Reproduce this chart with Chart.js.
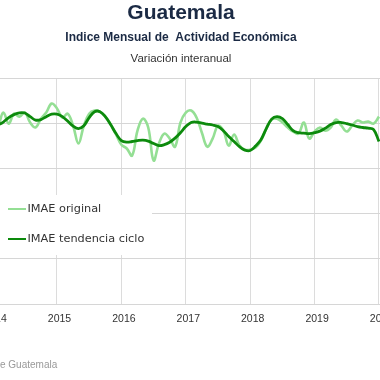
<!DOCTYPE html>
<html><head><meta charset="utf-8">
<script src="https://cdn.jsdelivr.net/npm/chart.js@4.4.1/dist/chart.umd.min.js"></script>
<style>
html,body{margin:0;padding:0;background:#fff;overflow:hidden;width:380px;height:380px;}
#wrap{position:absolute;left:-100px;top:0;width:562px;height:380px;}
</style></head><body>
<div id="wrap"><canvas id="c"></canvas></div>
<script>
const chartTitle = 'Guatemala';
const chartSubtitle = 'Indice Mensual de  Actividad Económica';
const chartSubtitle2 = 'Variación interanual';
const sourceNote = 'Fuente: Banco de Guatemala';
const seriesNames = ['IMAE original', 'IMAE tendencia ciclo'];

const startYear = 2014;
const yearTicks = [2014, 2015, 2016, 2017, 2018, 2019, 2020];
const yearLabels = ['2014', '2015', '2016', '2017', '2018', '2019', '2020'];

// monthly, Jan 2014 .. Jan 2020 (variación interanual, %)
const imaeOriginal = [
  4.12, 3.94, 4.47, 3.98, 4.42, 4.29, 4.48, 4.03, 3.81, 4.20, 4.47, 4.87,
  4.65, 4.25, 4.42, 3.89, 3.10, 3.89, 4.42, 4.56, 4.51, 4.29, 3.94, 3.50,
  3.05, 2.88, 2.57, 3.67, 4.20, 3.81, 2.35, 3.10, 3.54, 3.32, 2.96, 4.03,
  4.47, 4.56, 4.25, 3.58, 2.96, 3.32, 3.89, 3.67, 3.01, 3.50, 3.01, 2.83,
  2.83, 2.92, 3.23, 3.76, 4.16, 4.20, 4.03, 3.81, 3.63, 3.54, 4.03, 3.32,
  3.63, 3.81, 3.67, 3.81, 4.16, 3.89, 3.63, 3.89, 4.12, 4.03, 4.07, 3.98,
  4.29
];
const imaeTendencia = [
  3.81, 3.92, 4.05, 4.25, 4.38, 4.46, 4.45, 4.29, 4.14, 4.16, 4.29, 4.40,
  4.40, 4.29, 4.09, 3.87, 3.76, 3.89, 4.25, 4.51, 4.51, 4.29, 3.94, 3.54,
  3.23, 3.16, 3.19, 3.23, 3.25, 3.21, 3.10, 3.01, 3.05, 3.16, 3.34, 3.58,
  3.85, 4.03, 4.05, 4.00, 3.96, 3.92, 3.85, 3.67, 3.41, 3.19, 2.96, 2.81,
  2.79, 2.99, 3.27, 3.76, 4.18, 4.29, 4.20, 3.94, 3.67, 3.58, 3.56, 3.54,
  3.58, 3.65, 3.78, 3.94, 4.03, 4.03, 3.98, 3.92, 3.85, 3.81, 3.78, 3.72,
  3.19
];
const monthPositions = imaeOriginal.map((_, i) => startYear + i / 12);

const lightGreen = '#94df94';
const darkGreen = '#0c8a0c';

const textPlugin = {
  id: 'texts',
  afterDraw(chart) {
    const ctx = chart.ctx;
    const cx = chart.width / 2;
    ctx.save();
    ctx.textAlign = 'center';
    ctx.textBaseline = 'middle';
    ctx.fillStyle = '#1b2a44';
    ctx.font = 'bold 21px "Liberation Sans", Arial, sans-serif';
    ctx.fillText(chartTitle, cx, 13);
    ctx.font = 'bold 12px "Liberation Sans", Arial, sans-serif';
    ctx.fillText(chartSubtitle, cx, 38);
    ctx.fillStyle = '#333';
    ctx.font = '11.5px "Liberation Sans", Arial, sans-serif';
    ctx.fillText(chartSubtitle2, cx, 59);
    // source note
    ctx.textAlign = 'left';
    ctx.fillStyle = '#999';
    ctx.font = '10px "Liberation Sans", Arial, sans-serif';
    const pre = ctx.measureText('Fuente: Banco d').width;
    ctx.fillText(sourceNote, 100 - pre, 365);
    ctx.restore();
  }
};

const legendPlugin = {
  id: 'innerLegend',
  afterDatasetsDraw(chart) {
    const ctx = chart.ctx;
    const a = chart.chartArea;
    ctx.save();
    ctx.fillStyle = '#fff';
    ctx.fillRect(a.left, 195, 252 - a.left, 60);
    ctx.textAlign = 'left';
    ctx.textBaseline = 'middle';
    ctx.font = '11.3px "DejaVu Sans", sans-serif';
    chart.data.datasets.forEach((ds, i) => {
      const y = 209 + i * 30;
      ctx.strokeStyle = ds.borderColor;
      ctx.lineWidth = 2;
      ctx.beginPath();
      ctx.moveTo(108, y);
      ctx.lineTo(126, y);
      ctx.stroke();
      ctx.fillStyle = '#333';
      ctx.fillText(ds.label, 127.5, y);
    });
    ctx.restore();
  }
};

new Chart(document.getElementById('c'), {
  type: 'line',
  data: {
    datasets: [
      {
        label: seriesNames[0],
        data: monthPositions.map((x, i) => ({x, y: imaeOriginal[i]})),
        borderColor: lightGreen,
        borderWidth: 2.6,
        pointRadius: 0,
        tension: 0.4,
        fill: false,
        order: 2
      },
      {
        label: seriesNames[1],
        data: monthPositions.map((x, i) => ({x, y: imaeTendencia[i]})),
        borderColor: darkGreen,
        borderWidth: 2.8,
        pointRadius: 0,
        tension: 0.4,
        fill: false,
        order: 1
      }
    ]
  },
  options: {
    responsive: true,
    maintainAspectRatio: false,
    animation: false,
    devicePixelRatio: 1,
    layout: { padding: { top: 78, left: 60.4, right: 41.8, bottom: 46 } },
    plugins: { legend: { display: false }, tooltip: { enabled: false }, title: { display: false } },
    scales: {
      x: {
        type: 'linear',
        min: 2013.5,
        max: 2020.64,
        afterBuildTicks: (s) => { s.ticks = yearTicks.map(v => ({ value: v })); },
        afterFit: (s) => { s.height = 30; },
        ticks: {
          autoSkip: false,
          maxRotation: 0,
          padding: 9,
          labelOffset: 2.5,
          color: '#333',
          font: { family: '"Liberation Sans", Arial, sans-serif', size: 10.5 },
          callback: (v) => { const k = yearTicks.indexOf(v); return k >= 0 ? yearLabels[k] : ''; }
        },
        grid: { color: '#dcdcdc', lineWidth: 1, drawTicks: false },
        border: { display: false }
      },
      y: {
        min: -4,
        max: 6,
        ticks: { stepSize: 2, display: false },
        afterFit: (s) => { s.width = 0; },
        grid: { color: '#d6d6d6', lineWidth: 1, drawTicks: false },
        border: { display: false }
      }
    }
  },
  plugins: [textPlugin, legendPlugin]
});
</script>
</body></html>
